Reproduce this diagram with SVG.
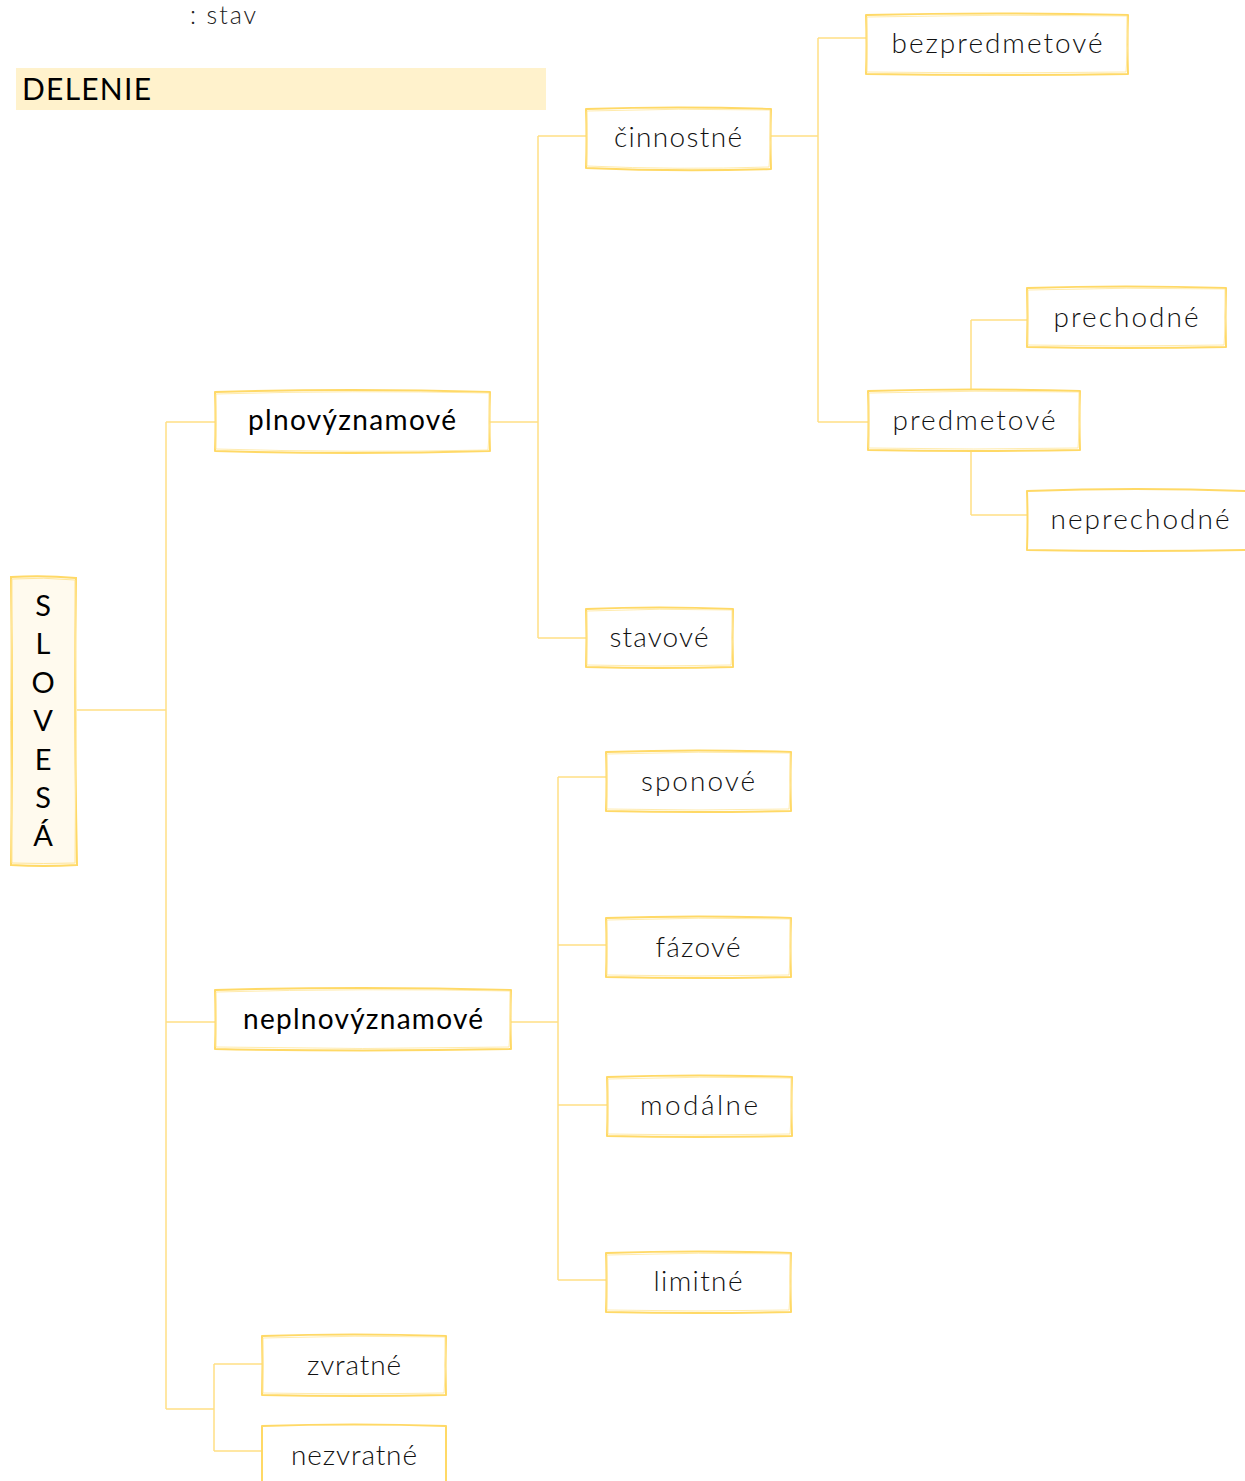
<svg xmlns="http://www.w3.org/2000/svg" width="1245" height="1481" viewBox="0 0 1245 1481">
<style>
.box{fill:#ffffff;stroke:#ffd966;stroke-width:2;stroke-linejoin:round}
.box2{fill:none;stroke:#ffe699;stroke-width:1;opacity:0.8}
.conn{fill:none;stroke:#ffe085;stroke-width:1.5}
.t{font-family:Lato,"Noto Sans","Liberation Sans",sans-serif;font-size:28px;fill:#111111;font-weight:300;text-anchor:middle}
.tb{font-family:Lato,"Noto Sans","Liberation Sans",sans-serif;font-size:28px;fill:#000000;font-weight:400;text-anchor:middle}
.v{font-family:Lato,"Noto Sans","Liberation Sans",sans-serif;font-size:29px;fill:#000000;font-weight:400;text-anchor:middle}
</style>
<rect width="1245" height="1481" fill="#ffffff"/>
<text x="190" y="24" textLength="66" style="font-family:Lato,'Noto Sans','Liberation Sans',sans-serif;font-size:25px;fill:#222222;font-weight:300">: stav</text>
<g id="delenie">
<rect x="16" y="68" width="530" height="42" fill="#fff2cc"/>
<text x="22" y="100" textLength="129" style="font-family:Lato,'Noto Sans','Liberation Sans',sans-serif;font-size:30px;fill:#000000;font-weight:400">DELENIE</text>
</g>
<g id="connectors">
<path class="conn" d="M77,710 H166 M166,422 V1409 M166,422 H215 M166,1022 H215 M166,1409 H214 M214,1364 V1451 M214,1364 H262 M214,1451 H262"/>
<path class="conn" d="M490,422 H538 M538,136 V638 M538,136 H586 M538,638 H586"/>
<path class="conn" d="M771,136 H818 M818,38 V422 M818,38 H866 M818,422 H868"/>
<path class="conn" d="M971,320 V390 M971,451 V515 M971,320 H1027 M971,515 H1027"/>
<path class="conn" d="M511,1022 H558 M558,777 V1280 M558,777 H606 M558,945 H606 M558,1105 H607 M558,1280 H606"/>
</g>
<g id="slovesa">
<path d="M11,577 Q44,575 76,578 Q74,720 77,865 Q44,867 11,865 Q13,720 11,577 Z" fill="#fffaee" stroke="#ffd966" stroke-width="2"/>
<path d="M12,579 Q44,577 75,580 Q77,720 75,863 Q44,864 12,863 Q9,720 12,579 Z" fill="none" stroke="#ffe699" stroke-width="1"/>
<text class="v" x="43" y="616">S</text>
<text class="v" x="43" y="654">L</text>
<text class="v" x="43" y="693">O</text>
<text class="v" x="43" y="731">V</text>
<text class="v" x="43" y="770">E</text>
<text class="v" x="43" y="808">S</text>
<text class="v" x="43" y="846">Á</text>
</g>
<g id="plnovyznamove">
<path class="box" d="M215,392 Q352,388 490,392 Q489,422 490,451 Q352,455 215,451 Q216,422 215,392 Z"/>
<path class="box2" d="M216,394 Q352,390 489,393 Q491,422 488,450 Q352,453 216,449 Z"/>
<text class="tb" x="352" y="430" textLength="208">plnovýznamové</text>
</g>
<g id="cinnostne">
<path class="box" d="M586,109 Q678,106 771,109 Q770,139 771,169 Q678,172 586,168 Q587,139 586,109 Z"/>
<path class="box2" d="M587,111 Q678,108 770,110 Q772,139 769,167 Q678,170 587,166 Z"/>
<text class="t" x="678" y="147" textLength="128">činnostné</text>
</g>
<g id="bezpredmetove">
<path class="box" d="M866,15 Q997,12 1128,15 Q1127,45 1128,74 Q997,76 866,74 Q867,45 866,15 Z"/>
<path class="box2" d="M867,17 Q997,14 1127,16 Q1129,45 1126,72 Q997,74 867,72 Z"/>
<text class="t" x="997" y="53" textLength="211">bezpredmetové</text>
</g>
<g id="predmetove">
<path class="box" d="M868,391 Q974,388 1080,391 Q1079,420 1080,450 Q974,452 868,450 Q869,420 868,391 Z"/>
<path class="box2" d="M869,393 Q974,390 1079,392 Q1081,420 1078,448 Q974,450 869,448 Z"/>
<text class="t" x="974" y="430" textLength="163">predmetové</text>
</g>
<g id="prechodne">
<path class="box" d="M1027,288 Q1126,285 1226,288 Q1225,317 1226,347 Q1126,349 1027,347 Q1028,317 1027,288 Z"/>
<path class="box2" d="M1028,290 Q1126,287 1225,289 Q1227,317 1224,345 Q1126,347 1028,345 Z"/>
<text class="t" x="1126" y="327" textLength="145">prechodné</text>
</g>
<g id="neprechodne">
<path class="box" d="M1027,491 Q1136,487 1246,491 L1246,550 Q1136,552 1027,550 Q1028,520 1027,491 Z"/>
<text class="t" x="1140" y="529" textLength="179">neprechodné</text>
</g>
<g id="stavove">
<path class="box" d="M586,609 Q659,606 733,609 Q732,638 733,667 Q659,669 586,667 Q587,638 586,609 Z"/>
<path class="box2" d="M587,611 Q659,608 732,610 Q734,638 731,665 Q659,667 587,665 Z"/>
<text class="t" x="659" y="647" textLength="99">stavové</text>
</g>
<g id="neplnovyznamove">
<path class="box" d="M215,990 Q363,986 511,990 Q510,1020 511,1049 Q363,1052 215,1049 Q216,1020 215,990 Z"/>
<path class="box2" d="M216,992 Q363,988 510,991 Q512,1020 509,1047 Q363,1050 216,1047 Z"/>
<text class="tb" x="363" y="1029" textLength="240">neplnovýznamové</text>
</g>
<g id="sponove">
<path class="box" d="M606,752 Q698,749 791,752 Q790,781 791,811 Q698,813 606,811 Q607,781 606,752 Z"/>
<path class="box2" d="M607,754 Q698,751 790,753 Q792,781 789,809 Q698,811 607,809 Z"/>
<text class="t" x="698" y="791" textLength="114">sponové</text>
</g>
<g id="fazove">
<path class="box" d="M606,918 Q698,915 791,918 Q790,947 791,977 Q698,979 606,977 Q607,947 606,918 Z"/>
<path class="box2" d="M607,920 Q698,917 790,919 Q792,947 789,975 Q698,977 607,975 Z"/>
<text class="t" x="698" y="957" textLength="85">fázové</text>
</g>
<g id="modalne">
<path class="box" d="M607,1077 Q699,1074 792,1077 Q791,1106 792,1136 Q699,1138 607,1136 Q608,1106 607,1077 Z"/>
<path class="box2" d="M608,1079 Q699,1076 791,1078 Q793,1106 790,1134 Q699,1136 608,1134 Z"/>
<text class="t" x="699" y="1115" textLength="118">modálne</text>
</g>
<g id="limitne">
<path class="box" d="M606,1253 Q698,1250 791,1253 Q790,1282 791,1312 Q698,1314 606,1312 Q607,1282 606,1253 Z"/>
<path class="box2" d="M607,1255 Q698,1252 790,1254 Q792,1282 789,1310 Q698,1312 607,1310 Z"/>
<text class="t" x="698" y="1291" textLength="89">limitné</text>
</g>
<g id="zvratne">
<path class="box" d="M262,1336 Q354,1333 446,1336 Q445,1365 446,1395 Q354,1397 262,1395 Q263,1365 262,1336 Z"/>
<path class="box2" d="M263,1338 Q354,1335 445,1337 Q447,1365 444,1393 Q354,1395 263,1393 Z"/>
<text class="t" x="354" y="1375" textLength="94">zvratné</text>
</g>
<g id="nezvratne">
<path class="box" d="M262,1426 Q354,1423 446,1426 L446,1482 L262,1482 Z"/>
<text class="t" x="354" y="1465" textLength="126">nezvratné</text>
</g>
</svg>
